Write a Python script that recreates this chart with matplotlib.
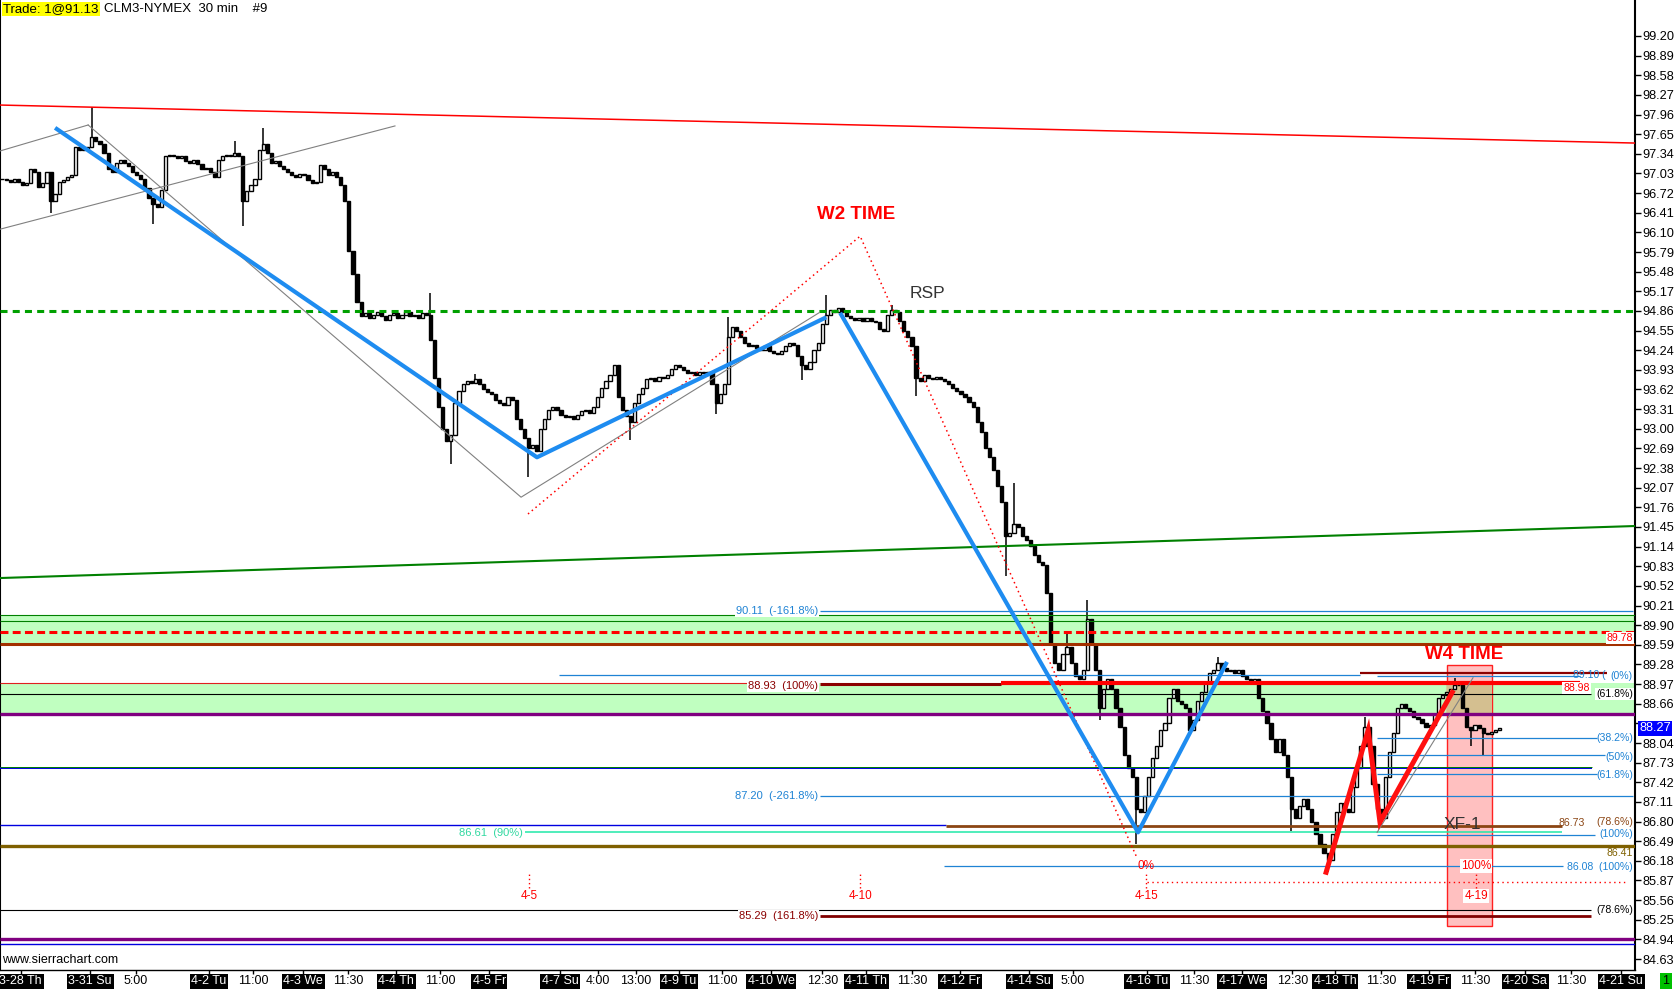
import numpy as np
import matplotlib.pyplot as plt
import matplotlib.transforms as mtransforms
from matplotlib.patches import Rectangle

plt.rcParams['font.family'] = ['Liberation Sans', 'DejaVu Sans']

W, H = 1676, 989

# hourly closes (one value per bar, left to right)
closes = [
    96.95, 96.92, 96.90, 96.95, 96.90, 96.85, 96.88, 97.10, 97.05, 96.82,
    96.88, 97.06, 96.60, 96.70, 96.90, 96.92, 96.98, 97.00, 97.45, 97.40,
    97.42, 97.45, 97.60, 97.55, 97.50, 97.35, 97.10, 97.05, 97.20, 97.25,
    97.20, 97.15, 97.05, 97.00, 96.95, 96.80, 96.65, 96.55, 96.50, 96.77,
    97.30, 97.32, 97.30, 97.28, 97.30, 97.22, 97.20, 97.25, 97.18, 97.10,
    97.12, 97.05, 96.98, 97.25, 97.30, 97.32, 97.30, 97.35, 97.30, 96.60,
    96.75, 96.85, 96.95, 97.40, 97.50, 97.35, 97.20, 97.22, 97.15, 97.10,
    97.05, 97.00, 96.98, 97.02, 97.00, 96.92, 96.88, 96.90, 97.17, 97.10,
    97.00, 97.05, 96.98, 96.85, 96.60, 95.80, 95.45, 95.00, 94.78, 94.82,
    94.75, 94.80, 94.85, 94.78, 94.72, 94.80, 94.82, 94.75, 94.80, 94.85,
    94.78, 94.80, 94.75, 94.82, 94.80, 94.40, 93.80, 93.35, 93.00, 92.80,
    92.90, 93.40, 93.60, 93.70, 93.75, 93.72, 93.78, 93.70, 93.62, 93.58,
    93.55, 93.45, 93.40, 93.38, 93.50, 93.45, 93.15, 93.00, 92.85, 92.70,
    92.75, 92.65, 93.00, 93.15, 93.30, 93.35, 93.30, 93.22, 93.18, 93.20,
    93.15, 93.22, 93.28, 93.30, 93.25, 93.35, 93.50, 93.65, 93.75, 93.85,
    94.00, 93.50, 93.30, 93.20, 93.10, 93.40, 93.55, 93.65, 93.78, 93.80,
    93.75, 93.82, 93.80, 93.85, 93.95, 94.00, 93.98, 93.92, 93.88, 93.90,
    93.85, 93.90, 93.88, 93.90, 93.70, 93.40, 93.55, 93.70, 94.45, 94.60,
    94.55, 94.45, 94.35, 94.30, 94.32, 94.28, 94.25, 94.30, 94.22, 94.20,
    94.18, 94.22, 94.30, 94.35, 94.32, 94.15, 94.00, 93.95, 94.05, 94.25,
    94.35, 94.65, 94.80, 94.88, 94.85, 94.90, 94.85, 94.78, 94.75, 94.72,
    94.75, 94.70, 94.75, 94.70, 94.68, 94.58, 94.55, 94.80, 94.88, 94.85,
    94.70, 94.55, 94.45, 94.30, 93.80, 93.75, 93.85, 93.80, 93.78, 93.82,
    93.78, 93.75, 93.70, 93.65, 93.60, 93.55, 93.50, 93.42, 93.35, 93.10,
    92.95, 92.70, 92.55, 92.35, 92.10, 91.85, 91.30, 91.35, 91.50, 91.45,
    91.30, 91.25, 91.15, 91.00, 90.90, 90.85, 90.40, 89.60, 89.30, 89.20,
    89.45, 89.55, 89.30, 89.10, 89.05, 89.20, 90.00, 89.60, 89.20, 88.60,
    88.90, 89.05, 88.90, 88.60, 88.30, 87.85, 87.65, 87.50, 87.00, 86.95,
    87.20, 87.50, 87.80, 88.00, 88.25, 88.35, 88.75, 88.90, 88.70, 88.65,
    88.60, 88.25, 88.40, 88.70, 88.85, 89.00, 89.15, 89.20, 89.30, 89.22,
    89.18, 89.20, 89.15, 89.20, 89.10, 89.05, 89.00, 89.05, 88.75, 88.55,
    88.35, 88.10, 87.90, 88.10, 87.85, 87.50, 87.00, 86.85, 87.05, 87.15,
    87.00, 86.80, 86.60, 86.45, 86.30, 86.20, 86.60, 86.95, 87.10, 87.00,
    86.95, 87.35, 87.65, 88.00, 88.30, 88.00, 87.40, 87.00, 86.85, 87.50,
    87.90, 88.20, 88.60, 88.65, 88.60, 88.55, 88.45, 88.42, 88.35, 88.30,
    88.33, 88.50, 88.75, 88.80, 88.85, 88.90, 88.95, 88.95, 88.60, 88.30,
    88.25, 88.32, 88.28, 88.20, 88.18, 88.22, 88.25, 88.27,
]
# long wicks (bar index -> price)
wick_highs = {22: 98.08, 57: 97.55, 64: 97.74, 105: 95.14, 116: 93.87, 178: 94.77,
              202: 95.11, 218: 94.95, 248: 92.14, 261: 89.77, 266: 90.30, 298: 89.40,
              334: 88.45, 356: 89.06}
wick_lows = {12: 96.40, 37: 96.24, 59: 96.20, 110: 92.45, 129: 92.24, 154: 92.82,
             175: 93.24, 196: 93.77, 224: 93.51, 246: 90.67, 269: 88.40, 278: 86.45,
             316: 86.65, 325: 86.01, 338: 86.75, 360: 88.00, 363: 87.85}

# time axis labels (bar positions)
tick_pos = [5.1, 22.1, 33.3, 51.2, 62.0, 74.3, 85.3, 97.1, 107.8, 119.9, 137.3, 146.6,
            155.9, 166.4, 177.0, 189.0, 201.5, 212.3, 223.5, 235.3, 252.2, 263.0, 281.1,
            292.6, 304.4, 316.7, 327.2, 338.5, 350.2, 361.5, 373.8, 385.0, 397.3]
tick_text = ['3-28 Th', '3-31 Su', '5:00', '4-2 Tu', '11:00', '4-3 We', '11:30', '4-4 Th',
             '11:00', '4-5 Fr', '4-7 Su', '4:00', '13:00', '4-9 Tu', '11:00', '4-10 We',
             '12:30', '4-11 Th', '11:30', '4-12 Fr', '4-14 Su', '5:00', '4-16 Tu', '11:30',
             '4-17 We', '12:30', '4-18 Th', '11:30', '4-19 Fr', '11:30', '4-20 Sa', '11:30',
             '4-21 Su']

price_ticks = np.round(np.arange(84.63, 99.21, 0.31), 2)
last_price = 88.27
x_end = 400.7
y_lo, y_hi = 84.457, 99.768

# horizontal levels: price and (start bar, end bar)
level_prices = [90.06, 89.97, 89.80, 89.60, 90.12, 89.12, 88.99, 88.97, 88.99, 89.14,
                89.09, 88.82, 88.49, 88.12, 87.85, 87.64, 87.665, 87.55, 87.21, 86.74,
                86.73, 86.63, 86.59, 86.42, 86.10, 85.85, 85.40, 85.31, 84.94, 84.86, 94.86]
level_spans = [(0, x_end), (0, x_end), (0, x_end), (0, x_end), (201.0, 400.2), (137.0, 333.3),
               (0, 183.8), (201.0, 245.3), (245.3, 387.3), (333.3, 393.9), (337.5, 387.3),
               (0, 389.9), (0, x_end), (337.5, 391.4), (337.5, 393.4), (0, 390.2), (0, 390.2),
               (337.5, 391.4), (201.0, 400.2), (0, 231.9), (231.9, 382.8), (128.7, 382.8),
               (337.5, 390.9), (0, x_end), (231.4, 383.1), (281.1, 398.3), (0, 389.9),
               (201.0, 389.9), (0, x_end), (0, x_end), (0, x_end)]

# green zones (low, high)
zones = [(89.60, 90.06), (88.49, 88.98)]

# drawn tools (bar, price)
red_top = ([0, x_end], [98.11, 97.51])
gray_a = ([0, 21.6], [97.385, 97.795])
gray_c = ([0, 96.8], [96.15, 97.78])
gray_zig = ([21.6, 127.7, 200.7], [97.795, 91.92, 94.83])
gray_w4 = ([337.5, 361.0], [86.63, 89.07])
green_slope = ([0, x_end], [90.644, 91.465])
blue_1 = ([13.5, 131.6, 202.5], [97.75, 92.55, 94.76])
blue_2 = ([205.9, 278.9, 300.7], [94.83, 86.63, 89.32])
red_w4 = ([325.0, 335.3, 338.2, 355.9], [86.0, 88.24, 86.79, 88.84])
w2_dotted = ([129.4, 210.8, 278.7], [91.655, 96.04, 86.22])
time_marks = [129.7, 210.8, 280.9, 361.8]
time_names = ['4-5', '4-10', '4-15', '4-19']
w4_box = (354.7, 365.7, 85.15, 89.27)

STEEL = '#1f83d4'
MAROON = '#8b0000'
PURPLE = '#800080'
OLIVE = '#7f6000'
BROWN = '#8b4513'
AQUA = '#20e8a8'
BLUE = '#0000e0'
GREEN = '#008000'

level_styles = [
    (GREEN, 0.8, '-'), (GREEN, 0.8, '-'), ('#ff0000', 2.2, (0, (2.6, 1.4))), ('#a33000', 2.2, '-'),
    (STEEL, 0.9, '-'), (STEEL, 0.9, '-'), ('#e02020', 0.8, '-'), (MAROON, 2.2, '-'),
    ('#ff0000', 3.0, '-'), (MAROON, 1.6, '-'), (STEEL, 0.9, '-'), ('black', 0.8, '-'),
    (PURPLE, 2.4, '-'), (STEEL, 0.9, '-'), (STEEL, 0.9, '-'), (BLUE, 1.4, '-'),
    (GREEN, 0.7, '-'), (STEEL, 0.9, '-'), (STEEL, 0.9, '-'), (BLUE, 1.0, '-'),
    (BROWN, 2.0, '-'), (AQUA, 1.1, '-'), (STEEL, 0.9, '-'), (OLIVE, 2.4, '-'),
    (STEEL, 0.9, '-'), ('#ff0000', 1.0, (0, (1, 2.5))), ('black', 0.8, '-'),
    ('#800000', 2.0, '-'), (PURPLE, 2.4, '-'), (BLUE, 1.0, '-'),
    ('#00a000', 2.2, (0, (2.3, 1.7))),
]

fig = plt.figure(figsize=(W / 100, H / 100), dpi=100)
ax = fig.add_axes([0, 19 / H, 1635 / W, 970 / H])
ax.set_xlim(0, x_end)
ax.set_ylim(y_lo, y_hi)

# zones
for lo, hi in zones:
    ax.axhspan(lo, hi, color='#c0ffc0', zorder=0.5, lw=0)

# W4 time box
bx0, bx1, by0, by1 = w4_box
ax.add_patch(Rectangle((bx0, by0), bx1 - bx0, by1 - by0, facecolor='#ffc0c0',
                       edgecolor='#ff2020', lw=1.0, zorder=0.8))
ax.add_patch(Rectangle((bx0, zones[1][0]), bx1 - bx0, zones[1][1] - zones[1][0],
                       facecolor='#d4bf90', lw=0, zorder=0.85))

# candles
c = np.array(closes)
o = np.concatenate([[c[0]], c[:-1]])
x = np.arange(len(c)) + 0.5
hi = np.maximum(o, c)
lo = np.minimum(o, c)
for i, v in wick_highs.items():
    hi[i] = max(hi[i], v)
for i, v in wick_lows.items():
    lo[i] = min(lo[i], v)
ax.vlines(x, lo, hi, color='black', lw=1.1, zorder=2)
up = c >= o
ax.bar(x[up], (c - o)[up], bottom=o[up], width=0.78, facecolor='white',
       edgecolor='black', lw=1.0, zorder=2.1)
ax.bar(x[~up], (o - c)[~up], bottom=c[~up], width=0.78, facecolor='black',
       edgecolor='black', lw=1.0, zorder=2.1)

# levels
for p, (x0, x1), (col, lw, ls) in zip(level_prices, level_spans, level_styles):
    ax.hlines(p, x0, x1, colors=col, lw=lw, linestyles=[ls], zorder=3)

# tools
ax.plot(*red_top, color='#ff0000', lw=1.1, zorder=3)
ax.plot(*green_slope, color=GREEN, lw=1.5, zorder=3)
for g in (gray_a, gray_c, gray_zig, gray_w4):
    ax.plot(*g, color='#808080', lw=0.8, zorder=3.2)
ax.plot(*w2_dotted, color='#ff0000', lw=1.1, ls=(0, (1, 2.2)), zorder=3.3)
for b in (blue_1, blue_2):
    ax.plot(*b, color='#1e8cf0', lw=3.0, solid_capstyle='butt', zorder=4)
ax.plot(*red_w4, color='#ff1010', lw=3.6, solid_joinstyle='miter', zorder=4)

# time markers
for xm, name in zip(time_marks, time_names):
    ax.vlines(xm, 85.75, 85.99, colors='#ff0000', lw=1.0, linestyles=[(0, (1, 2))], zorder=4)
    bb = dict(facecolor='white', edgecolor='none', pad=0.8) if name == '4-19' else None
    ax.text(xm, 85.62, name, color='#ff0000', fontsize=8.5, ha='center', va='center',
            bbox=bb, zorder=5)
ax.text(280.9, 86.10, '0%', color='#ff0000', fontsize=8.5, ha='center', va='center', zorder=5)
ax.text(361.8, 86.10, '100%', color='#ff0000', fontsize=8.5, ha='center', va='center',
        bbox=dict(facecolor='white', edgecolor='none', pad=0.8), zorder=5)

wbg = dict(facecolor='white', edgecolor='none', pad=0.6)
mid_labels = [('90.11  (-161.8%)', 90.12, STEEL), ('88.93  (100%)', 88.94, MAROON),
              ('87.20  (-261.8%)', 87.20, STEEL), ('85.29  (161.8%)', 85.31, MAROON)]
for t, p, col in mid_labels:
    ax.text(200.5, p, t, color=col, fontsize=8, ha='right', va='center', bbox=wbg, zorder=5)
ax.text(128.2, 86.62, '86.61  (90%)', color='#30d8a0', fontsize=8, ha='right', va='center',
        bbox=wbg, zorder=5)

right_labels = [('89.78', 400.2, 89.70, '#ff0000', True), ('89.10 (', 393.4, 89.12, STEEL, False),
                ('(0%)', 400.2, 89.10, STEEL, False), ('88.98', 389.6, 88.91, '#ff0000', True),
                ('(61.8%)', 400.2, 88.81, 'black', True), ('(38.2%)', 400.2, 88.12, STEEL, False),
                ('(50%)', 400.2, 87.82, STEEL, False), ('(61.8%)', 400.2, 87.53, STEEL, False),
                ('86.73', 388.5, 86.78, BROWN, False), ('(78.6%)', 400.2, 86.79, BROWN, False),
                ('(100%)', 400.2, 86.60, STEEL, True), ('86.41', 400.2, 86.30, OLIVE, False),
                ('86.08  (100%)', 400.2, 86.08, STEEL, False), ('(78.6%)', 400.2, 85.40, 'black', False)]
for t, xr, p, col, bg in right_labels:
    ax.text(xr, p, t, color=col, fontsize=7.6, ha='right', va='center',
            bbox=wbg if bg else None, zorder=5)

ax.text(209.8, 96.39, 'W2 TIME', color='#ff0000', fontsize=13.5, fontweight='bold',
        ha='center', va='center', zorder=5)
ax.text(358.8, 89.43, 'W4 TIME', color='#ff0000', fontsize=13.5, fontweight='bold',
        ha='center', va='center', zorder=5)
ax.text(227.2, 95.13, 'RSP', color='#333333', fontsize=12.5, ha='center', va='center', zorder=5)
ax.text(358.3, 86.75, 'XF-1', color='#333333', fontsize=12.5, ha='center', va='center', zorder=5)

# axes styling
ax.spines['top'].set_visible(False)
ax.spines['right'].set_linewidth(1.5)
ax.spines['left'].set_linewidth(1.5)
ax.spines['bottom'].set_linewidth(1.0)
ax.yaxis.tick_right()
ax.set_yticks(price_ticks)
ax.set_yticklabels(['' if abs(v - 88.35) < 1e-6 else f'{v:.2f}' for v in price_ticks])
ax.tick_params(axis='y', direction='out', length=4, width=1, pad=1.5, labelsize=9.2)
ax.set_xticks(tick_pos)
ax.set_xticklabels([])
ax.tick_params(axis='x', direction='out', length=3, width=1)

xtrans = mtransforms.blended_transform_factory(ax.transData, ax.transAxes)
for pos, t in zip(tick_pos, tick_text):
    is_day = ' ' in t
    ax.text(pos, -0.0115, t, transform=xtrans, ha='center', va='center', fontsize=9,
            color='white' if is_day else 'black', clip_on=False,
            bbox=dict(facecolor='black', edgecolor='none', pad=1.2) if is_day else None)

ytrans = mtransforms.blended_transform_factory(ax.transAxes, ax.transData)
ax.text(1.0025, last_price, f'{last_price:.2f}', transform=ytrans, ha='left', va='center',
        fontsize=9.2, color='white', clip_on=False,
        bbox=dict(facecolor='#0000ff', edgecolor='none', pad=1.0), zorder=6)

fig.text(3 / W, 1 - 9 / H, 'Trade: 1@91.13', fontsize=9.5, ha='left', va='center',
         bbox=dict(facecolor='#ffff00', edgecolor='none', pad=1.0))
fig.text(104 / W, 1 - 9 / H, 'CLM3-NYMEX  30 min    #9', fontsize=9.5, ha='left', va='center')
fig.text(2 / W, 1 - 960 / H, 'www.sierrachart.com', fontsize=9, ha='left', va='center')
fig.text(1666 / W, 1 - 981 / H, '1', fontsize=9, ha='center', va='center',
         bbox=dict(facecolor='#00c000', edgecolor='none', pad=1.5))

fig.savefig('out.png', dpi=100)
